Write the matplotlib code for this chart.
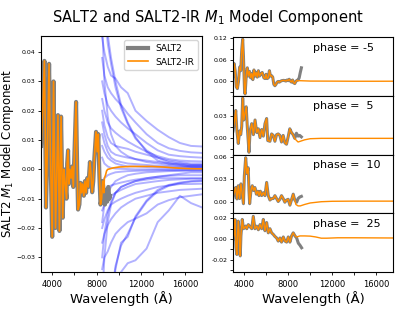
import numpy as np
import matplotlib
matplotlib.use("Agg")
import matplotlib.pyplot as plt
from matplotlib.ticker import MultipleLocator

# ---- left panel: M1 component near maximum ----
wave_max = [3000, 3150, 3300, 3380, 3440, 3600, 3720, 3830, 4000, 4120, 4300, 4420,
            4520, 4650, 4800, 4950, 5050, 5150, 5290, 5350, 5430, 5500, 5600, 5700,
            5800, 5900, 6000, 6150, 6250, 6330, 6450, 6550, 6650, 6750, 6850, 6950,
            7050, 7150, 7250, 7400, 7500, 7600, 7700, 7800, 7950, 8050, 8150, 8250,
            8350, 8450, 8550, 8650, 8750, 8850, 8950, 9050, 9150, 9200]
salt2_max = [0.008, 0.020, 0.037, 0.012, -0.013, 0.012, 0.036, 0.008, -0.023, 0.030,
             -0.020, 0.000, 0.0185, -0.021, 0.018, -0.0165, 0.000, -0.004, -0.010,
             0.002, 0.0065, -0.005, 0.000, -0.003, 0.001, -0.006, 0.005, 0.023, 0.000,
             -0.0137, -0.012, -0.0046, -0.008, -0.005, -0.009, -0.004, -0.008, -0.003,
             -0.006, 0.0025, -0.002, -0.0078, -0.004, 0.004, 0.0128, 0.006, 0.012,
             -0.002, -0.012, -0.010, -0.004, -0.008, -0.012, -0.007, -0.011, -0.006,
             -0.010, -0.009]
ir_tail_wave_max = [8700, 8800, 8900, 9000, 9500, 10000, 11000, 12000, 13000, 14000,
                    15000, 16000, 17000, 17500]
ir_tail_max = [-0.003, -0.002, -0.0005, 0.0, 0.0005, 0.0008, 0.001, 0.001, 0.001,
               0.0008, 0.0005, 0.0003, 0.0002, 0.0002]

# blue curves (extrapolated IR parts), sampled on a common grid
wave_blue = [8500, 8700, 9000, 9300, 9700, 10200, 10800, 11500, 12500, 13500, 14500,
             15500, 16500, 17500]
blue_curves = [
    [0.075, 0.060, 0.046, 0.038, 0.030, 0.022, 0.016, 0.011, 0.006, 0.003, 0.002, 0.0015, 0.001, 0.001],
    [0.070, 0.056, 0.043, 0.036, 0.028, 0.021, 0.0155, 0.0105, 0.0065, 0.004, 0.0025, 0.002, 0.0015, 0.0015],
    [0.045, 0.040, 0.035, 0.032, 0.031, 0.028, 0.026, 0.020, 0.0165, 0.0135, 0.011, 0.009, 0.008, 0.0078],
    [0.038, 0.032, 0.028, 0.026, 0.024, 0.022, 0.019, 0.016, 0.012, 0.009, 0.0072, 0.0063, 0.0058, 0.0056],
    [0.030, 0.026, 0.022, 0.020, 0.018, 0.016, 0.014, 0.012, 0.009, 0.0065, 0.005, 0.0045, 0.0042, 0.0040],
    [0.024, 0.020, 0.016, 0.014, 0.0125, 0.011, 0.0095, 0.008, 0.006, 0.0045, 0.0035, 0.003, 0.0028, 0.0027],
    [0.020, 0.015, 0.011, 0.009, 0.008, 0.0075, 0.007, 0.006, 0.005, 0.004, 0.003, 0.0025, 0.002, 0.002],
    [0.016, 0.012, 0.008, 0.006, 0.005, 0.0045, 0.004, 0.0035, 0.003, 0.0025, 0.002, 0.0018, 0.0015, 0.0015],
    [0.050, 0.030, 0.018, 0.012, 0.008, 0.006, 0.0045, 0.0035, 0.0025, 0.002, 0.0015, 0.0012, 0.001, 0.001],
    [0.012, 0.009, 0.006, 0.004, 0.003, 0.0025, 0.002, 0.0018, 0.0015, 0.0012, 0.001, 0.0009, 0.0008, 0.0008],
    [0.008, 0.006, 0.004, 0.003, 0.002, 0.0015, 0.001, 0.001, 0.0008, 0.0007, 0.0006, 0.0005, 0.0005, 0.0005],
    [0.004, 0.002, 0.001, 0.0005, 0.0003, 0.0002, 0.0001, 0.0, 0.0, 0.0, 0.0, 0.0, 0.0, 0.0],
    [-0.004, -0.003, -0.002, -0.0015, -0.001, -0.0008, -0.0006, -0.0005, -0.0004, -0.0003, -0.0003, -0.0003, -0.0002, -0.0002],
    [-0.008, -0.007, -0.006, -0.0055, -0.005, -0.0045, -0.004, -0.0035, -0.003, -0.0025, -0.0022, -0.002, -0.002, -0.002],
    [-0.014, -0.012, -0.010, -0.009, -0.008, -0.007, -0.006, -0.005, -0.0045, -0.004, -0.0036, -0.0034, -0.0032, -0.0032],
    [-0.080, -0.070, -0.058, -0.046, -0.034, -0.025, -0.023, -0.016, -0.0106, -0.007, -0.0053, -0.0045, -0.004, -0.0038],
    [-0.076, -0.066, -0.055, -0.044, -0.033, -0.026, -0.022, -0.0165, -0.011, -0.0075, -0.0056, -0.0047, -0.0042, -0.004],
    [-0.075, -0.068, -0.060, -0.052, -0.043, -0.035, -0.032, -0.031, -0.027, -0.018, -0.014, -0.009, -0.0115, -0.013],
    [-0.034, -0.030, -0.028, -0.025, -0.022, -0.020, -0.018, -0.0168, -0.015, -0.012, -0.0105, -0.0095, -0.009, -0.0085],
    [-0.025, -0.022, -0.019, -0.017, -0.015, -0.013, -0.0115, -0.010, -0.009, -0.008, -0.0075, -0.007, -0.0068, -0.0066],
    [-0.020, -0.017, -0.014, -0.012, -0.011, -0.010, -0.009, -0.008, -0.007, -0.006, -0.0055, -0.005, -0.005, -0.0049],
    [-0.030, -0.022, -0.015, -0.011, -0.008, -0.006, -0.005, -0.004, -0.003, -0.0025, -0.002, -0.0015, -0.001, -0.001],
    [-0.018, -0.012, -0.008, -0.006, -0.004, -0.003, -0.002, -0.0015, -0.001, -0.0008, -0.0006, -0.0005, -0.0005, -0.0005],
    [-0.045, -0.030, -0.018, -0.012, -0.008, -0.006, -0.005, -0.004, -0.0035, -0.003, -0.003, -0.003, -0.003, -0.003],
]

# ---- right panels: other phases ----
phases = ["phase = -5", "phase =  5", "phase =  10", "phase =  25"]

wave_m5 = [3000, 3100, 3200, 3300, 3400, 3500, 3600, 3700, 3800, 3880, 3950, 4050, 4100,
           4200, 4300, 4400, 4500, 4600, 4700, 4800, 4900, 5000, 5100, 5200, 5300, 5400,
           5500, 5650, 5800, 5900, 6000, 6100, 6200, 6300, 6400, 6500, 6600, 6700, 6800,
           6900, 7000, 7100, 7200, 7400, 7600, 7800, 7900, 8000, 8100, 8200, 8300, 8400,
           8500, 8600, 8700, 8800, 8900, 9000, 9100, 9200]
salt2_m5 = [0.015, 0.050, 0.030, -0.015, -0.020, 0.000, 0.040, 0.030, 0.090, 0.118, 0.070,
            -0.030, -0.035, 0.015, 0.038, 0.015, 0.028, 0.010, 0.022, 0.005, 0.032, 0.015,
            0.025, 0.012, 0.030, 0.015, 0.020, 0.025, 0.010, 0.008, 0.020, 0.008, 0.010,
            0.030, 0.015, 0.016, 0.012, -0.008, -0.012, -0.008, -0.002, 0.000, -0.002,
            0.002, 0.003, 0.001, 0.004, 0.002, 0.006, 0.001, -0.002, 0.004, -0.004, -0.006,
            0.000, 0.003, 0.004, 0.010, 0.025, 0.038]
ir_tail_wave_m5 = [8900, 9100, 10000, 12000, 14000, 16000, 17500]
ir_tail_m5 = [0.002, 0.002, 0.001, 0.0008, 0.0005, 0.0005, 0.0006]

wave_p5 = [3000, 3120, 3250, 3350, 3480, 3600, 3700, 3790, 3880, 3980, 4090, 4200, 4300,
           4450, 4550, 4700, 4850, 5000, 5150, 5300, 5450, 5600, 5750, 5900, 6050, 6150,
           6350, 6500, 6650, 6800, 6950, 7100, 7250, 7400, 7550, 7700, 7850, 8000, 8150,
           8300, 8450, 8600, 8750, 8900, 9050, 9200]
salt2_p5 = [0.010, 0.022, 0.038, 0.011, -0.007, 0.010, 0.005, 0.016, 0.055, 0.025, 0.034,
            0.043, 0.015, -0.019, 0.010, 0.020, 0.005, 0.025, 0.008, 0.013, 0.001, 0.012,
            0.003, 0.020, 0.027, -0.003, -0.004, 0.006, 0.004, -0.004, 0.005, 0.006, 0.004,
            -0.005, 0.004, -0.006, -0.008, 0.002, 0.013, 0.008, 0.005, 0.000, 0.007, 0.003,
            0.004, 0.002]
ir_tail_wave_p5 = [8700, 8900, 9100, 9500, 10000, 11000, 12000, 14000, 17500]
ir_tail_p5 = [-0.002, -0.005, -0.004, -0.002, -0.0005, 0.0, 0.0, 0.0, 0.0]

wave_p10 = [3000, 3120, 3240, 3360, 3480, 3600, 3720, 3840, 3950, 4030, 4150, 4260, 4380,
            4450, 4510, 4630, 4750, 4870, 4990, 5120, 5250, 5360, 5480, 5600, 5750, 5900,
            6050, 6200, 6350, 6500, 6650, 6800, 6950, 7100, 7250, 7400, 7550, 7700, 7850,
            8000, 8160, 8300, 8460, 8600, 8770, 8900, 9050, 9200]
salt2_p10 = [0.005, 0.0125, 0.019, 0.0035, 0.0215, 0.004, 0.024, 0.010, -0.003, 0.035,
             0.0596, 0.038, 0.046, 0.015, -0.003, 0.015, 0.0215, 0.015, 0.019, 0.010, 0.014,
             0.008, 0.014, 0.008, 0.012, 0.008, 0.026, 0.008, 0.002, 0.004, 0.004, 0.008,
             0.004, 0.000, 0.003, 0.008, 0.004, -0.001, 0.002, 0.003, -0.005, 0.002, 0.010,
             0.002, -0.001, 0.004, 0.006, 0.007]
ir_tail_wave_p10 = [8700, 8900, 9100, 9500, 10000, 11000, 12000, 14000, 17500]
ir_tail_p10 = [-0.004, -0.006, -0.006, -0.004, -0.002, -0.0003, 0.0003, 0.0005, 0.0005]

wave_p25 = [3000, 3120, 3180, 3270, 3350, 3420, 3480, 3600, 3660, 3720, 3840, 3950, 4050,
            4150, 4250, 4390, 4540, 4700, 4840, 4990, 5150, 5300, 5450, 5600, 5750, 5900,
            6050, 6200, 6350, 6500, 6650, 6800, 6960, 7100, 7260, 7400, 7560, 7710, 7865,
            8010, 8160, 8310, 8460, 8620, 8770, 8920, 9070, 9220]
salt2_p25 = [0.000, 0.0045, 0.019, -0.008, -0.015, 0.005, 0.0174, -0.005, -0.0164, 0.003,
             0.019, 0.010, 0.011, 0.0126, 0.010, 0.014, 0.012, 0.010, 0.022, 0.010, 0.0125,
             0.009, 0.014, 0.010, 0.019, 0.008, 0.016, 0.006, 0.010, 0.006, 0.0045, 0.0025,
             0.001, -0.002, 0.001, -0.003, 0.002, -0.002, -0.003, 0.002, -0.003, 0.003,
             0.006, 0.003, 0.001, -0.004, -0.006, -0.0085]
ir_tail_wave_p25 = [8770, 8920, 9070, 9500, 10000, 10500, 11000, 11500, 12500, 14000, 17500]
ir_tail_p25 = [0.002, 0.0025, 0.003, 0.003, 0.0028, 0.002, 0.0008, 0.0008, 0.0012, 0.0012, 0.001]

right_data = [
    (wave_m5, salt2_m5, ir_tail_wave_m5, ir_tail_m5),
    (wave_p5, salt2_p5, ir_tail_wave_p5, ir_tail_p5),
    (wave_p10, salt2_p10, ir_tail_wave_p10, ir_tail_p10),
    (wave_p25, salt2_p25, ir_tail_wave_p25, ir_tail_p25),
]
right_ylims = [(-0.04, 0.124), (-0.022, 0.058), (-0.016, 0.064), (-0.032, 0.025)]
right_yticks = [[0.0, 0.06, 0.12], [0.0, 0.03], [0.0, 0.03, 0.06], [-0.02, 0.0, 0.02]]


def ir_curve(wave, flux, tail_wave, tail_flux):
    """SALT2-IR follows SALT2 in the optical and has its own tail redwards."""
    wave = np.asarray(wave)
    flux = np.asarray(flux)
    keep = wave < tail_wave[0]
    return (np.concatenate([wave[keep], tail_wave]),
            np.concatenate([flux[keep], tail_flux]))


grey = "gray"
orange = "darkorange"
xlim = (3000, 17500)

fig = plt.figure(figsize=(4.15, 3.11), dpi=100)
fig.suptitle("SALT2 and SALT2-IR $M_1$ Model Component", fontsize=10.5, y=0.975)

# left panel
ax = fig.add_axes([0.099, 0.1254, 0.388, 0.759])
for curve in blue_curves:
    ax.plot(wave_blue, curve, color="b", alpha=0.3, lw=1.4)
ax.plot(wave_max, salt2_max, color=grey, lw=3, label="SALT2")
w_ir, f_ir = ir_curve(wave_max, salt2_max, ir_tail_wave_max, ir_tail_max)
ax.plot(w_ir, f_ir, color=orange, lw=1.2, label="SALT2-IR")
ax.set_xlim(*xlim)
ax.set_ylim(-0.035, 0.0455)
ax.set_xticks([4000, 8000, 12000, 16000])
ax.xaxis.set_minor_locator(MultipleLocator(2000))
ax.yaxis.set_major_locator(MultipleLocator(0.01))
ax.tick_params(axis="x", labelsize=6, length=2.5, width=0.6)
ax.tick_params(axis="x", which="minor", length=2.5, width=0.6)
ax.tick_params(axis="y", labelsize=4.5, length=2.5, width=0.6, pad=1.5)
ax.set_xlabel("Wavelength (Å)", fontsize=9.5, labelpad=1)
ax.set_ylabel("SALT2 $M_1$ Model Component", fontsize=8.5)
ax.yaxis.set_label_coords(-0.155, 0.5)
ax.legend(loc="upper right", fontsize=6.5, handlelength=2.2)

# right panels
panel_h = 58.75 / 311
for i, (w, f, tw, tf) in enumerate(right_data):
    bottom = (39 + (3 - i) * 58.75) / 311
    axr = fig.add_axes([0.5614, bottom, 0.3855, panel_h])
    axr.plot(w, f, color=grey, lw=2.2)
    wi, fi = ir_curve(w, f, tw, tf)
    axr.plot(wi, fi, color=orange, lw=1.0)
    axr.set_xlim(*xlim)
    axr.set_ylim(*right_ylims[i])
    axr.set_yticks(right_yticks[i])
    axr.yaxis.set_major_formatter(plt.FormatStrFormatter("%.2f"))
    axr.set_xticks([4000, 8000, 12000, 16000])
    axr.xaxis.set_minor_locator(MultipleLocator(2000))
    step = right_yticks[i][1] - right_yticks[i][0]
    axr.yaxis.set_minor_locator(MultipleLocator(step / 2))
    axr.tick_params(axis="both", which="both", length=2.5, width=0.6)
    axr.tick_params(axis="y", labelsize=4.5, pad=1.5)
    axr.tick_params(axis="x", labelsize=6)
    axr.text(0.5, 0.82, phases[i], transform=axr.transAxes, fontsize=8,
             ha="left", va="center")
    if i < 3:
        axr.tick_params(axis="x", which="both", labelbottom=False)
    else:
        axr.set_xlabel("Wavelength (Å)", fontsize=9.5, labelpad=1)

fig.savefig("out.png", dpi=100)
